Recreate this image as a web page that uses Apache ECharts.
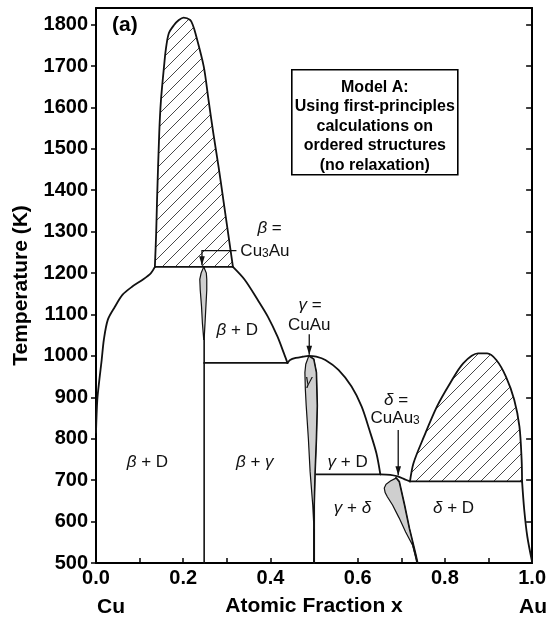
<!DOCTYPE html>
<html>
<head>
<meta charset="utf-8">
<script src="https://cdn.jsdelivr.net/npm/echarts@6.0.0/dist/echarts.min.js"></script>
<style>
html,body{margin:0;padding:0;background:#fff;}
#chart{width:549px;height:626px;}
</style>
</head>
<body>
<div id="chart"></div>
<script>
// ---------------- data ----------------
const xTickLabels = ['0.0', '0.2', '0.4', '0.6', '0.8', '1.0'];
const yTickLabels = ['500','600','700','800','900','1000','1100','1200','1300','1400','1500','1600','1700','1800'];

// phase boundaries: [atomic fraction x, temperature K]
const cuSideBoundary = [[0.000,815],[0.003,894],[0.008,945],[0.013,990],[0.018,1039],[0.027,1087],[0.043,1118],[0.061,1148],[0.084,1168],[0.107,1184],[0.126,1200],[0.135,1215]];
const betaHatchDome = [[0.135,1215],[0.138,1297],[0.140,1377],[0.145,1538],[0.149,1618],[0.156,1699],[0.160,1739],[0.167,1779],[0.179,1799],[0.190,1811],[0.201,1817],[0.216,1811],[0.222,1799],[0.228,1779],[0.247,1699],[0.258,1618],[0.269,1538],[0.281,1457],[0.292,1377],[0.303,1296],[0.314,1215]];
const betaDBoundary = [[0.314,1215],[0.341,1184],[0.371,1135],[0.394,1095],[0.416,1047],[0.431,1006],[0.439,983]];
const gammaDome = [[0.439,983],[0.445,990],[0.458,995],[0.473,998],[0.488,1000],[0.505,998],[0.526,990],[0.556,966],[0.586,926],[0.609,878],[0.627,821],[0.643,765],[0.652,714]];
const deltaShoulder = [[0.652,714],[0.675,713],[0.692,709],[0.708,702],[0.720,697]];
const deltaHatchDome = [[0.720,697],[0.728,741],[0.752,805],[0.782,878],[0.812,934],[0.842,982],[0.876,1006],[0.897,1006],[0.918,990],[0.940,950],[0.959,894],[0.971,829],[0.976,749],[0.977,697]];
const auSideBoundary = [[0.977,697],[0.982,628],[0.989,564],[1.000,503]];

const tie1215 = [[0.135,1215],[0.314,1215]];
const tie983 = [[0.248,983],[0.439,983]];
const tie714 = [[0.505,714],[0.652,714]];
const tie697 = [[0.720,697],[0.977,697]];

const betaLine = [[0.248,500],[0.248,1215]];
const betaLensLeft = [[0.247,1215],[0.241,1200],[0.238,1185],[0.239,1159],[0.242,1119],[0.244,1079],[0.247,1040]];
const betaLensRight = [[0.247,1215],[0.253,1200],[0.254,1185],[0.254,1159],[0.252,1119],[0.250,1079],[0.248,1040]];
const gammaLensLeft = [[0.488,1000],[0.481,980],[0.479,960],[0.480,920],[0.482,880],[0.487,800],[0.491,720],[0.497,640],[0.500,580]];
const gammaLensRight = [[0.488,1000],[0.499,992],[0.505,960],[0.507,880],[0.505,800],[0.502,720],[0.500,640],[0.500,500]];
const deltaLensLeft = [[0.688,705],[0.675,698],[0.665,690],[0.661,681],[0.663,670],[0.668,660],[0.680,640],[0.695,609],[0.710,575],[0.726,543],[0.737,500]];
const deltaLensRight = [[0.688,705],[0.695,696],[0.707,640],[0.718,584],[0.733,519],[0.737,500]];

const betaPointer = [[0.322,1254],[0.243,1254],[0.243,1219]];
const gammaPointer = [[0.489,1052],[0.489,1003]];
const deltaPointer = [[0.693,821],[0.693,712]];

const regionLabels = ['{g|β} + D', '{g|β} + D', '{g|β} + {g|γ}', '{g|γ}', '{g|γ} + D', '{g|γ} + {g|δ}', '{g|δ} + D'];
const phaseLabels = ['{g|β} =', 'Cu{s|3}Au', '{g|γ} =', 'CuAu', '{g|δ} =', 'CuAu{s|3}'];
const boxLines = ['Model A:', 'Using first-principles', 'calculations on', 'ordered structures', '(no relaxation)'];

// ---------------- layout (anchor points in data units, styles) ----------------
const regionAnchors = [[0.118,744],[0.324,1063],[0.364,744],[0.488,938],[0.577,744],[0.588,632],[0.820,632]];
const regionSizes = [17,17,17,14,17,17,17];
const phaseAnchors = [[0.398,1309,'center'],[0.331,1253,'left'],[0.491,1123,'center'],[0.489,1075,'center'],[0.688,894,'center'],[0.686,850,'center']];

const FONT = "'Liberation Sans', Arial, Helvetica, sans-serif";
const INK = '#111';

function makeHatch(size) {
  const c = document.createElement('canvas');
  c.width = size; c.height = size;
  const g = c.getContext('2d');
  g.strokeStyle = '#333';
  g.lineWidth = 0.9;
  g.beginPath();
  g.moveTo(-1, size + 1); g.lineTo(size + 1, -1);
  g.moveTo(-2, 2); g.lineTo(2, -2);
  g.moveTo(size - 2, size + 2); g.lineTo(size + 2, size - 2);
  g.stroke();
  return c;
}
const hatchPattern = { image: makeHatch(13), repeat: 'repeat' };

function polygonSeries(points, style, z) {
  return {
    type: 'custom', coordinateSystem: 'cartesian2d', silent: true, animation: false, z: z,
    data: [[0, 500]],
    renderItem: function (params, api) {
      return { type: 'polygon', shape: { points: points.map(p => api.coord(p)) }, style: style };
    }
  };
}
function lineSeries(data, width, smooth) {
  return {
    type: 'line', data: data, symbol: 'none', smooth: smooth || false, silent: true,
    animation: false, z: 3, clip: false,
    lineStyle: { color: INK, width: width, cap: 'round', join: 'round' }
  };
}
function pointerSeries(pointers) {
  return {
    type: 'custom', coordinateSystem: 'cartesian2d', silent: true, animation: false, z: 4,
    data: [[0, 500]],
    renderItem: function (params, api) {
      const children = [];
      pointers.forEach(function (pts) {
        const px = pts.map(p => api.coord(p));
        children.push({ type: 'polyline', shape: { points: px }, style: { stroke: INK, lineWidth: 1.3, fill: null } });
        const a = px[px.length - 2], b = px[px.length - 1];
        const dx = b[0] - a[0], dy = b[1] - a[1], L = Math.sqrt(dx * dx + dy * dy);
        const ux = dx / L, uy = dy / L, len = 9, hw = 2.8;
        const bx = b[0] - ux * len, by = b[1] - uy * len;
        children.push({ type: 'polygon', shape: { points: [b, [bx - uy * hw, by + ux * hw], [bx + uy * hw, by - ux * hw]] }, style: { fill: INK } });
      });
      return { type: 'group', children: children };
    }
  };
}
function textSeries(texts, anchors, sizes) {
  return {
    type: 'custom', coordinateSystem: 'cartesian2d', silent: true, animation: false, z: 5,
    data: [[0, 500]],
    renderItem: function (params, api) {
      const children = texts.map(function (t, i) {
        const c = api.coord([anchors[i][0], anchors[i][1]]);
        const fs = sizes[i];
        return {
          type: 'text', x: c[0], y: c[1],
          style: {
            text: t, fill: INK, fontSize: fs, fontFamily: FONT,
            align: anchors[i][2] || 'center', verticalAlign: 'middle',
            rich: {
              g: { fontSize: fs, fontFamily: FONT, fontStyle: 'italic', fill: INK },
              s: { fontSize: Math.round(fs * 0.72), fontFamily: FONT, fill: INK, verticalAlign: 'bottom' }
            }
          }
        };
      });
      return { type: 'group', children: children };
    }
  };
}

function xFmt(v) {
  const k = v * 5;
  if (Math.abs(k - Math.round(k)) < 1e-6) return xTickLabels[Math.round(k)] || '';
  return '';
}
function yFmt(v) {
  const i = Math.round((v - 500) / 100);
  if (Math.abs(v - 500 - i * 100) < 1e-6 && i >= 0 && i < yTickLabels.length) return yTickLabels[i];
  return '';
}

const axisLineStyle = { show: true, onZero: false, lineStyle: { color: '#000', width: 2 } };
const boldLabel = { color: '#000', fontSize: 20, fontWeight: 'bold', fontFamily: FONT };

const chart = echarts.init(document.getElementById('chart'), null, { renderer: 'canvas' });
chart.setOption({
  animation: false,
  backgroundColor: '#fff',
  grid: { left: 96, right: 11, top: 8, bottom: 63, containLabel: false },
  xAxis: [{
    type: 'value', min: 0, max: 1, interval: 0.1, position: 'bottom',
    axisLine: axisLineStyle,
    axisTick: { show: true, inside: true, length: 5, lineStyle: { color: '#000', width: 1.5 } },
    axisLabel: Object.assign({ formatter: xFmt, margin: 5, showMinLabel: true, showMaxLabel: true }, boldLabel),
    splitLine: { show: false },
    name: 'Atomic Fraction x', nameLocation: 'middle', nameGap: 33,
    nameTextStyle: { color: '#000', fontSize: 21, fontWeight: 'bold', fontFamily: FONT }
  }, {
    type: 'value', min: 0, max: 1, position: 'top',
    axisLine: axisLineStyle, axisTick: { show: false }, axisLabel: { show: false }, splitLine: { show: false }
  }],
  yAxis: [{
    type: 'value', min: 500, max: 1840, interval: 100, position: 'left',
    axisLine: axisLineStyle,
    axisTick: { show: true, inside: false, length: 5, lineStyle: { color: '#000', width: 1.5 } },
    axisLabel: Object.assign({ formatter: yFmt, margin: 8, showMaxLabel: false }, boldLabel),
    splitLine: { show: false },
    name: 'Temperature (K)', nameLocation: 'middle', nameRotate: 90, nameGap: 64,
    nameTextStyle: { color: '#000', fontSize: 21, fontWeight: 'bold', fontFamily: FONT }
  }, {
    type: 'value', min: 500, max: 1840, interval: 100, position: 'right',
    axisLine: axisLineStyle,
    axisTick: { show: true, inside: true, length: 6, lineStyle: { color: '#000', width: 1.5 } },
    axisLabel: { show: false }, splitLine: { show: false }
  }],
  series: [
    polygonSeries(betaHatchDome, { fill: hatchPattern, stroke: null }, 1),
    polygonSeries(deltaHatchDome, { fill: hatchPattern, stroke: null }, 1),
    lineSeries(betaLine, 1.6),
    polygonSeries(betaLensLeft.concat(betaLensRight.slice().reverse()), { fill: '#cfcfcf', stroke: INK, lineWidth: 1.2 }, 4),
    polygonSeries(gammaLensLeft.concat(gammaLensRight.slice().reverse()), { fill: '#cfcfcf', stroke: INK, lineWidth: 1.2 }, 4),
    polygonSeries(deltaLensLeft.concat(deltaLensRight.slice().reverse()), { fill: '#cfcfcf', stroke: INK, lineWidth: 1.2 }, 4),
    lineSeries(gammaLensRight, 2),
    lineSeries(deltaLensRight, 2.2),
    lineSeries(cuSideBoundary, 1.8, 0.3),
    lineSeries(betaHatchDome, 1.8, 0.3),
    lineSeries(betaDBoundary, 1.8, 0.3),
    lineSeries(gammaDome, 1.8, 0.3),
    lineSeries(deltaShoulder, 1.8, 0.3),
    lineSeries(deltaHatchDome, 1.8, 0.3),
    lineSeries(auSideBoundary, 1.8, 0.3),
    lineSeries(tie1215, 1.8),
    lineSeries(tie983, 1.8),
    lineSeries(tie714, 1.8),
    lineSeries(tie697, 1.8),
    pointerSeries([betaPointer, gammaPointer, deltaPointer]),
    textSeries(regionLabels, regionAnchors, regionSizes),
    textSeries(phaseLabels, phaseAnchors, [17,17,17,17,17,17])
  ],
  graphic: [
    { type: 'text', left: 112, top: 15, style: { text: '(a)', fill: '#000', font: 'bold 21px ' + FONT } },
    { type: 'text', left: 97, top: 597, style: { text: 'Cu', fill: '#000', font: 'bold 21px ' + FONT } },
    { type: 'text', left: 519, top: 597, style: { text: 'Au', fill: '#000', font: 'bold 21px ' + FONT } },
    { type: 'group', left: 291, top: 69, z: 10, children: [
      { type: 'rect', shape: { x: 0, y: 0, width: 166, height: 105 }, style: { fill: '#fff', stroke: '#000', lineWidth: 1.6 } },
      { type: 'text', x: 83, y: 8, style: { text: boxLines.join('\n'), fill: '#000', font: 'bold 16px ' + FONT,
        lineHeight: 19.5, align: 'center', verticalAlign: 'top' } }
    ] }
  ]
});
</script>
</body>
</html>
